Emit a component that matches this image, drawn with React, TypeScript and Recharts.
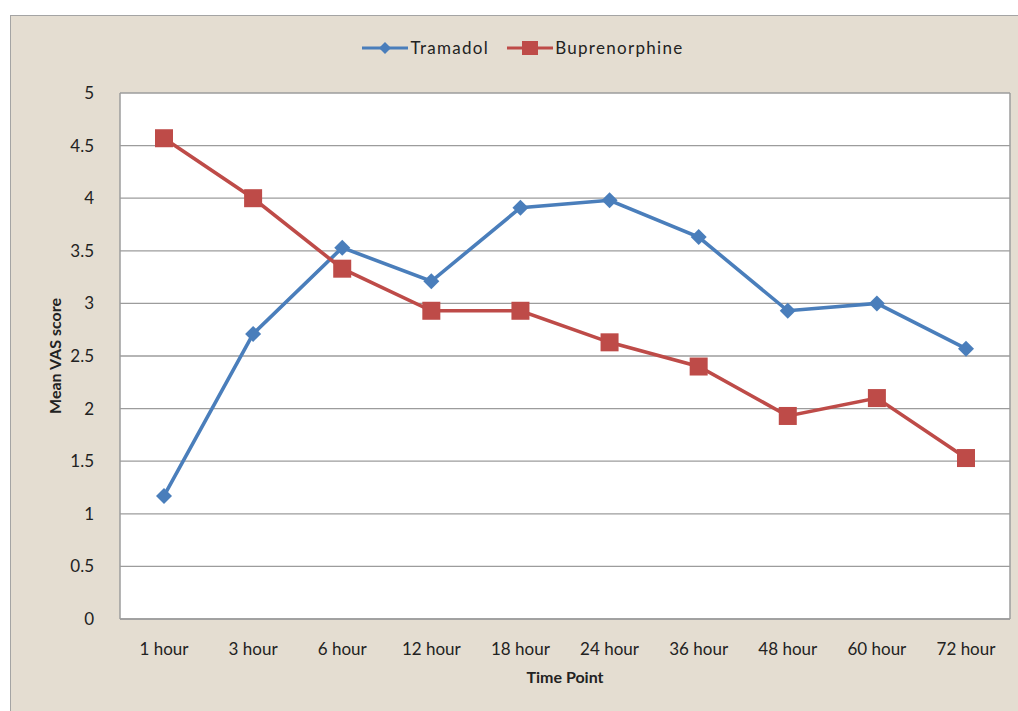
import React from "react";
import {
  LineChart,
  Line,
  XAxis,
  YAxis,
  CartesianGrid,
  Legend,
} from "recharts";

const timePoints = [
  "1 hour",
  "3 hour",
  "6 hour",
  "12 hour",
  "18 hour",
  "24 hour",
  "36 hour",
  "48 hour",
  "60 hour",
  "72 hour",
];
const tramadol = [1.17, 2.71, 3.53, 3.21, 3.91, 3.98, 3.63, 2.93, 3.0, 2.57];
const buprenorphine = [4.57, 4.0, 3.33, 2.93, 2.93, 2.63, 2.4, 1.93, 2.1, 1.53];
const yTicks = [0, 0.5, 1, 1.5, 2, 2.5, 3, 3.5, 4, 4.5, 5];

const BLUE = "#4a7ebb";
const RED = "#be4b48";
const GRID = "#9c9c9c";
const FONT = "Lato, 'Open Sans', sans-serif";

const rows = timePoints.map((t, i) => ({
  t,
  tramadol: tramadol[i],
  buprenorphine: buprenorphine[i],
}));

interface DotProps {
  cx?: number;
  cy?: number;
}

function Diamond({ cx, cy }: DotProps) {
  if (cx == null || cy == null) return null;
  const r = 8;
  return (
    <polygon
      points={`${cx},${cy - r} ${cx + r},${cy} ${cx},${cy + r} ${cx - r},${cy}`}
      fill={BLUE}
    />
  );
}

function Square({ cx, cy }: DotProps) {
  if (cx == null || cy == null) return null;
  const r = 9;
  return <rect x={cx - r} y={cy - r} width={r * 2} height={r * 2} fill={RED} />;
}

function LegendBox() {
  const item = (label: string, color: string, mark: "d" | "s") => (
    <span style={{ display: "inline-flex", alignItems: "center", margin: "0 9px" }}>
      <svg width={46} height={16}>
        <line x1={0} y1={8} x2={46} y2={8} stroke={color} strokeWidth={3} />
        {mark === "d" ? (
          <polygon points="23,2 29,8 23,14 17,8" fill={color} />
        ) : (
          <rect x={15} y={1} width={16} height={14} fill={color} />
        )}
      </svg>
      <span style={{ marginLeft: 2, letterSpacing: 1.3, color: "#222" }}>{label}</span>
    </span>
  );
  return (
    <div style={{ textAlign: "center", fontFamily: FONT, fontSize: 17 }}>
      {item("Tramadol", BLUE, "d")}
      {item("Buprenorphine", RED, "s")}
    </div>
  );
}

export default function App() {
  return (
    <div
      style={{
        position: "absolute",
        left: 0,
        top: 0,
        width: 1018,
        height: 711,
        background: "#ffffff",
        overflow: "hidden",
      }}
    >
      <div
        style={{
          position: "absolute",
          left: 10,
          top: 15,
          width: 1020,
          height: 720,
          background: "#e4ddd1",
          border: "1px solid #a4a4a4",
        }}
      />
      <div style={{ position: "absolute", left: 0, top: 0 }}>
        <LineChart
          width={1018}
          height={711}
          data={rows}
          margin={{ top: 93, right: 7, bottom: 62, left: 0 }}
        >
          <CartesianGrid
            vertical={false}
            stroke={GRID}
            strokeWidth={1.3}
            fill="#ffffff"
            fillOpacity={1}
          />
          <XAxis
            dataKey="t"
            height={30}
            padding={{ left: 44, right: 44 }}
            tickLine={false}
            axisLine={{ stroke: GRID, strokeWidth: 1.5 }}
            tickMargin={18}
            interval={0}
            tick={{ fontSize: 17, fill: "#222", fontFamily: FONT }}
            label={{
              value: "Time Point",
              position: "insideBottom",
              offset: -34,
              style: { fontSize: 16, fontWeight: 700, fill: "#222", fontFamily: FONT },
            }}
          />
          <YAxis
            width={120}
            domain={[0, 5]}
            ticks={yTicks}
            interval={0}
            tickLine={false}
            axisLine={{ stroke: GRID, strokeWidth: 1.5 }}
            tickMargin={20}
            tick={{ fontSize: 17, fill: "#222", fontFamily: FONT }}
            label={{
              value: "Mean VAS score",
              angle: -90,
              position: "insideLeft",
              offset: 55,
              style: {
                textAnchor: "middle",
                fontSize: 16,
                fontWeight: 700,
                fill: "#222",
                fontFamily: FONT,
              },
            }}
          />
          <YAxis
            yAxisId="r"
            orientation="right"
            width={1}
            domain={[0, 5]}
            tick={false}
            tickLine={false}
            axisLine={{ stroke: GRID, strokeWidth: 1.5 }}
          />
          <Legend
            verticalAlign="middle"
            content={() => <LegendBox />}
            wrapperStyle={{ top: 37, left: 0, width: 1046 }}
          />
          <Line
            dataKey="tramadol"
            name="Tramadol"
            stroke={BLUE}
            strokeWidth={3.6}
            dot={<Diamond />}
            activeDot={false}
            isAnimationActive={false}
          />
          <Line
            dataKey="buprenorphine"
            name="Buprenorphine"
            stroke={RED}
            strokeWidth={3.6}
            dot={<Square />}
            activeDot={false}
            isAnimationActive={false}
          />
        </LineChart>
      </div>
    </div>
  );
}
